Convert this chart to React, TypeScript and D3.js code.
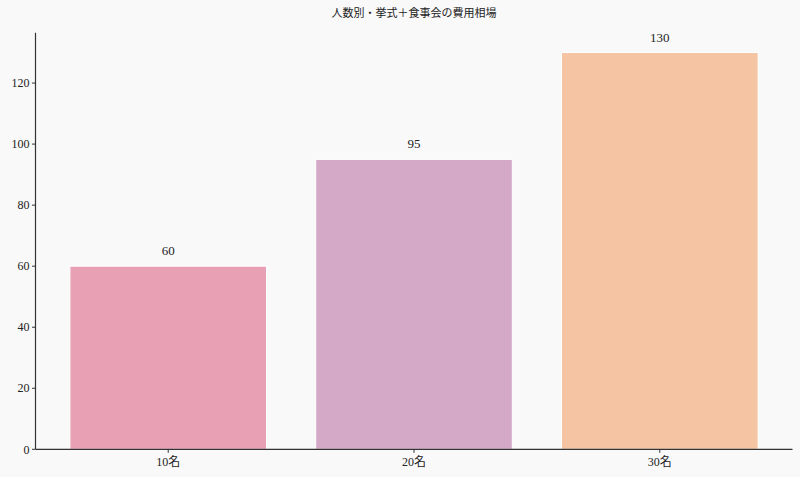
import React, { useEffect, useRef } from "react";
import * as d3 from "d3";

const categories = ["10名", "20名", "30名"];
const values = [60, 95, 130];
const barColors = ["#e8a0b4", "#d4a9c8", "#f4c4a3"];
const yTicks = [0, 20, 40, 60, 80, 100, 120];
const title = "人数別・挙式＋食事会の費用相場";

const W = 800;
const H = 477;
const FONT = "'Liberation Serif', 'Noto Sans CJK JP', serif";

export default function App() {
  const ref = useRef<SVGSVGElement>(null);

  useEffect(() => {
    const svg = d3.select(ref.current);
    svg.selectAll("*").remove();

    const left = 35.5, right = 792.5, top = 32.7, bottom = 449.3;

    svg.append("rect").attr("width", W).attr("height", H).attr("fill", "#f9f9f9");

    const x = d3.scaleLinear().domain([-0.54, 2.54]).range([left, right]);
    const y = d3.scaleLinear().domain([0, 136.5]).range([bottom, top]);
    const bw = 0.8;

    const g = svg.append("g");

    g.selectAll("rect.bar")
      .data(values)
      .enter()
      .append("rect")
      .attr("class", "bar")
      .attr("x", (_, i) => x(i - bw / 2))
      .attr("width", (_, i) => x(i + bw / 2) - x(i - bw / 2))
      .attr("y", (d) => y(d))
      .attr("height", (d) => y(0) - y(d))
      .attr("fill", (_, i) => barColors[i])
      .attr("stroke", "#ffffff")
      .attr("stroke-width", 1);

    g.selectAll("text.val")
      .data(values)
      .enter()
      .append("text")
      .attr("class", "val")
      .attr("x", (_, i) => x(i))
      .attr("y", (d) => y(d) - 11)
      .attr("text-anchor", "middle")
      .attr("font-family", FONT)
      .attr("font-size", 13)
      .attr("fill", "#222")
      .text((d) => String(d));

    // Y axis
    const yAxis = svg.append("g");
    yAxis.append("line")
      .attr("x1", left).attr("x2", left)
      .attr("y1", top).attr("y2", bottom)
      .attr("stroke", "#333").attr("stroke-width", 1.2);
    yTicks.forEach((t) => {
      yAxis.append("line")
        .attr("x1", left - 3.5).attr("x2", left)
        .attr("y1", y(t)).attr("y2", y(t))
        .attr("stroke", "#333").attr("stroke-width", 1);
      yAxis.append("text")
        .attr("x", left - 6)
        .attr("y", y(t))
        .attr("dy", "0.35em")
        .attr("text-anchor", "end")
        .attr("font-family", FONT)
        .attr("font-size", 12)
        .attr("fill", "#222")
        .text(String(t));
    });

    // X axis
    const xAxis = svg.append("g");
    xAxis.append("line")
      .attr("x1", left).attr("x2", right)
      .attr("y1", bottom).attr("y2", bottom)
      .attr("stroke", "#333").attr("stroke-width", 1.2);
    categories.forEach((c, i) => {
      xAxis.append("line")
        .attr("x1", x(i)).attr("x2", x(i))
        .attr("y1", bottom).attr("y2", bottom + 3.5)
        .attr("stroke", "#333").attr("stroke-width", 1);
      xAxis.append("text")
        .attr("x", x(i))
        .attr("y", bottom + 17)
        .attr("text-anchor", "middle")
        .attr("font-family", FONT)
        .attr("font-size", 12)
        .attr("fill", "#222")
        .text(c);
    });

    svg.append("text")
      .attr("x", (left + right) / 2)
      .attr("y", 17)
      .attr("text-anchor", "middle")
      .attr("font-family", FONT)
      .attr("font-size", 11)
      .attr("fill", "#222")
      .text(title);
  }, []);

  return (
    <svg
      ref={ref}
      width={W}
      height={H}
      style={{ position: "fixed", left: 0, top: 0, display: "block" }}
    />
  );
}
